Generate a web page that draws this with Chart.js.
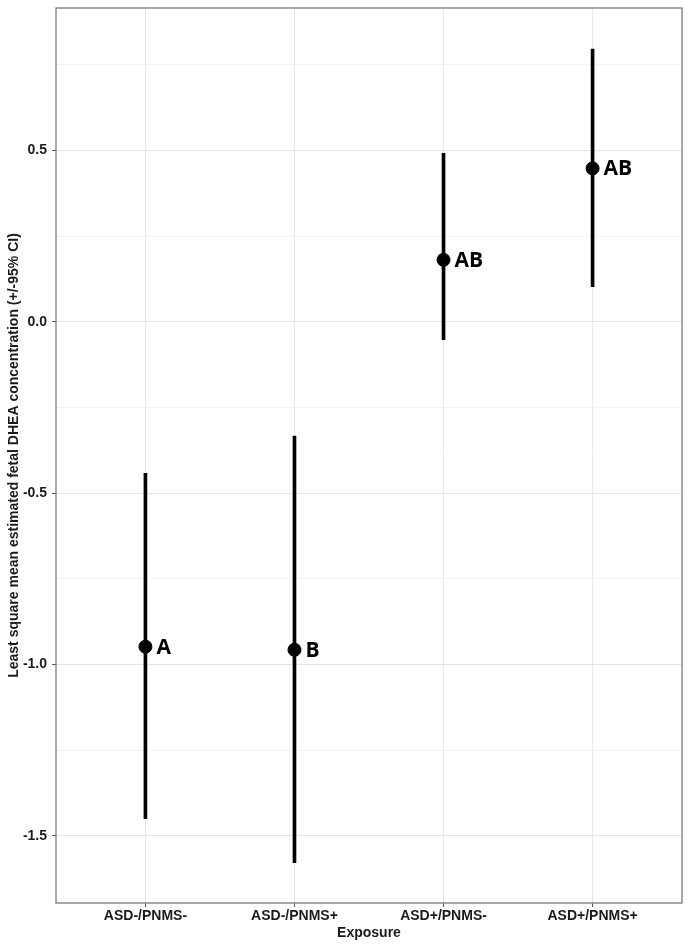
<!DOCTYPE html>
<html>
<head>
<meta charset="utf-8">
<script src="https://cdn.jsdelivr.net/npm/chart.js@4"></script>
<style>
  html, body { margin: 0; padding: 0; background: #fff; }
  #wrap { width: 691px; height: 945px; position: relative; }
</style>
</head>
<body>
<div id="wrap"><canvas id="chart"></canvas></div>
<script>
const categories = ['ASD-/PNMS-', 'ASD-/PNMS+', 'ASD+/PNMS-', 'ASD+/PNMS+'];
const means = [-0.948, -0.957, 0.181, 0.448];
const lower = [-1.450, -1.578, -0.052, 0.103];
const upper = [-0.442, -0.333, 0.492, 0.796];
const groupLetters = ['A', 'B', 'AB', 'AB'];
const yTicks = [-1.5, -1.25, -1.0, -0.75, -0.5, -0.25, 0.0, 0.25, 0.5, 0.75];

const tickFont = { family: "'Liberation Sans', Arial, sans-serif", size: 14, weight: 'bold' };

function isMajor(v) {
    return Math.abs(v * 2 - Math.round(v * 2)) < 1e-6;
}

// box round the panel, like theme_bw
const panelBorder = {
    id: 'panelBorder',
    afterDraw(chart) {
        const a = chart.chartArea;
        const ctx = chart.ctx;
        ctx.save();
        ctx.strokeStyle = '#7a7a7a';
        ctx.lineWidth = 1.3;
        ctx.strokeRect(a.left, a.top, a.right - a.left, a.bottom - a.top);
        ctx.restore();
    }
};

// group letters next to each point
const letterLabels = {
    id: 'letterLabels',
    afterDatasetsDraw(chart) {
        const meta = chart.getDatasetMeta(1);
        const ctx = chart.ctx;
        ctx.save();
        ctx.fillStyle = '#000';
        ctx.font = "bold 21px 'Open Sans', sans-serif";
        ctx.textAlign = 'left';
        ctx.textBaseline = 'middle';
        meta.data.forEach((pt, i) => {
            ctx.fillText(groupLetters[i], pt.x + 11, pt.y + 1);
        });
        ctx.restore();
    }
};

new Chart(document.getElementById('chart'), {
    type: 'bar',
    data: {
        datasets: [{
            label: '95% CI',
            data: categories.map((c, i) => ({ x: i + 1, y: [lower[i], upper[i]] })),
            backgroundColor: '#000',
            borderWidth: 0,
            barThickness: 3,
            grouped: false,
            order: 2
        }, {
            type: 'scatter',
            label: 'LS mean',
            data: categories.map((c, i) => ({ x: i + 1, y: means[i] })),
            backgroundColor: '#000',
            borderColor: '#000',
            pointRadius: 6.5,
            pointHoverRadius: 6.5,
            order: 1
        }]
    },
    options: {
        responsive: true,
        maintainAspectRatio: false,
        animation: false,
        layout: { padding: { top: 8, right: 9, left: 0, bottom: 0 } },
        plugins: {
            legend: { display: false },
            tooltip: { enabled: false }
        },
        scales: {
            x: {
                type: 'linear',
                min: 0.4,
                max: 4.6,
                offset: false,
                afterBuildTicks: (scale) => {
                    scale.ticks = categories.map((c, i) => ({ value: i + 1 }));
                },
                afterFit: (scale) => {
                    scale.height = 42;
                    scale.paddingLeft = 0;
                    scale.paddingRight = 0;
                },
                ticks: {
                    callback: (v) => categories[Math.round(v) - 1],
                    autoSkip: false,
                    maxRotation: 0,
                    padding: 1,
                    color: '#1a1a1a',
                    font: tickFont
                },
                grid: {
                    offset: false,
                    color: '#e8e8e8',
                    lineWidth: 1,
                    drawTicks: true,
                    tickLength: 4,
                    tickColor: '#555'
                },
                border: { display: false },
                title: {
                    display: true,
                    text: 'Exposure',
                    color: '#1a1a1a',
                    font: tickFont,
                    padding: { top: 0, bottom: 3 }
                }
            },
            y: {
                min: -1.696,
                max: 0.916,
                afterBuildTicks: (scale) => {
                    scale.ticks = yTicks.map(v => ({ value: v }));
                },
                afterFit: (scale) => {
                    scale.width = 56;
                    scale.paddingTop = 0;
                    scale.paddingBottom = 0;
                },
                ticks: {
                    callback: (v) => isMajor(v) ? v.toFixed(1) : '',
                    padding: 5,
                    color: '#1a1a1a',
                    font: tickFont
                },
                grid: {
                    color: (ctx) => isMajor(ctx.tick.value) ? '#e3e3e3' : '#f2f2f2',
                    lineWidth: 1,
                    drawTicks: true,
                    tickLength: 4,
                    tickColor: (ctx) => isMajor(ctx.tick.value) ? '#555' : 'rgba(0,0,0,0)'
                },
                border: { display: false },
                title: {
                    display: true,
                    text: 'Least square mean estimated fetal DHEA concentration (+/-95% CI)',
                    color: '#1a1a1a',
                    font: tickFont,
                    padding: { top: 6, bottom: 0 }
                }
            }
        }
    },
    plugins: [panelBorder, letterLabels]
});
</script>
</body>
</html>
